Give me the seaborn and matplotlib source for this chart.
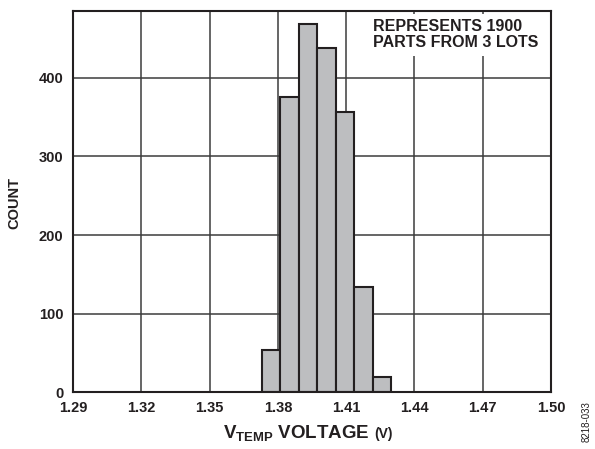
import matplotlib
matplotlib.use("Agg")
import matplotlib.pyplot as plt
import seaborn as sns
import numpy as np

# ---- data ----
bin_edges = [1.373, 1.3811, 1.3892, 1.3973, 1.4054, 1.4135, 1.4216, 1.4297]
counts = [54, 376, 468, 438, 357, 134, 20]
x_ticks = [1.29, 1.32, 1.35, 1.38, 1.41, 1.44, 1.47, 1.50]
x_tick_labels = ["1.29", "1.32", "1.35", "1.38", "1.41", "1.44", "1.47", "1.50"]
y_ticks = [0, 100, 200, 300, 400]
y_tick_labels = ["0", "100", "200", "300", "400"]
note_text = "REPRESENTS 1900\nPARTS FROM 3 LOTS"
y_label = "COUNT"
x_label_main = r"$\mathbf{V_{TEMP}}$ VOLTAGE"
x_label_unit = "(V)"
fig_id = "8218-033"

sns.set_style("white")
plt.rcParams["font.family"] = ["Liberation Sans", "DejaVu Sans"]
plt.rcParams["mathtext.fontset"] = "custom"
plt.rcParams["mathtext.rm"] = "Liberation Sans:bold"
plt.rcParams["mathtext.bf"] = "Liberation Sans:bold"
plt.rcParams["mathtext.it"] = "Liberation Sans:bold"
plt.rcParams["text.color"] = "#231f20"
plt.rcParams["xtick.color"] = "#231f20"
plt.rcParams["ytick.color"] = "#231f20"

fig = plt.figure(figsize=(5.95, 4.49), dpi=100)
ax = fig.add_axes([73 / 595, 1 - 392.3 / 449, 478 / 595, 381.3 / 449])

centers = [(a + b) / 2 for a, b in zip(bin_edges[:-1], bin_edges[1:])]
sns.histplot(x=centers, weights=counts, bins=bin_edges, ax=ax,
             color="#bdbec0", edgecolor="#231f20", linewidth=1.5, alpha=1.0,
             zorder=3)

ax.set_xlim(1.29, 1.50)
ax.set_ylim(0, 485)
ax.set_xticks(x_ticks)
ax.set_xticklabels(x_tick_labels)
ax.set_yticks(y_ticks)
ax.set_yticklabels(y_tick_labels)
ax.tick_params(axis="x", length=0, labelsize=10.5, pad=6.5)
ax.tick_params(axis="y", length=0, labelsize=10.5, pad=7)
for lab in ax.get_xticklabels() + ax.get_yticklabels():
    lab.set_fontweight("bold")
    lab.set_color("#231f20")

ax.grid(True, color="#3c3c3c", linewidth=1.1, zorder=1)
ax.set_axisbelow(True)
for s in ax.spines.values():
    s.set_color("#231f20")
    s.set_linewidth(1.5)
    s.set_zorder(5)

ax.set_xlabel("")
ax.set_ylabel("")

ax.text(0.628, 0.978, note_text, transform=ax.transAxes, ha="left", va="top",
        fontsize=11.5, fontweight="bold", linespacing=1.08, zorder=4,
        bbox=dict(boxstyle="square,pad=0.35", facecolor="white", edgecolor="none"))

fig.text(14 / 595, 1 - 203 / 449, y_label, rotation=90, ha="center", va="center",
         fontsize=10.5, fontweight="bold")

# x label made of two pieces with different sizes
y_base = 1 - 438 / 449
t1 = fig.text(0, y_base, x_label_main, ha="left", va="baseline",
              fontsize=13.5, fontweight="bold")
t2 = fig.text(0, y_base, x_label_unit, ha="left", va="baseline",
              fontsize=10, fontweight="bold")
fig.canvas.draw()
r = fig.canvas.get_renderer()
w1 = t1.get_window_extent(r).width
w2 = t2.get_window_extent(r).width
gap = 4
total = w1 + gap + w2
center_px = 307.7
x0 = center_px - total / 2
t1.set_x(x0 / 595)
t2.set_x((x0 + w1 + gap) / 595)

fig.text(587 / 595, 1 - 422 / 449, fig_id, rotation=90, ha="center", va="center",
         fontsize=7, color="#231f20")

fig.savefig("out.png", dpi=100)
